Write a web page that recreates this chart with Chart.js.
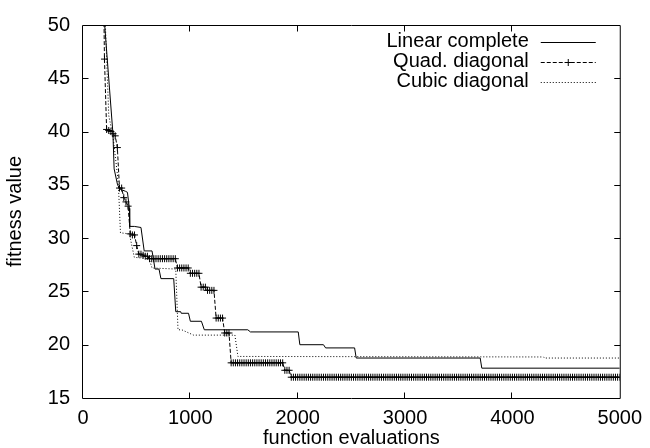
<!DOCTYPE html>
<html><head><meta charset="utf-8">
<script src="https://cdn.jsdelivr.net/npm/chart.js@4.4.1/dist/chart.umd.min.js"></script>
<style>html,body{margin:0;padding:0;background:#fff}#wrap{width:650px;height:448px}</style>
</head><body><div id="wrap"><canvas id="c" width="650" height="448"></canvas></div>
<script>
const xTicks = [0, 1000, 2000, 3000, 4000, 5000];
const yTicks = [15, 20, 25, 30, 35, 40, 45, 50];
const seriesNames = ['Linear complete', 'Quad. diagonal', 'Cubic diagonal'];

const linearEvals = [164, 279, 290, 322, 345, 395, 414, 432, 435, 478, 540, 570, 643, 671, 708, 726, 845, 864, 910, 915, 983, 1000, 1103, 1130, 1535, 1560, 2005, 2020, 2240, 2260, 2530, 2545, 3700, 3715, 5000];
const linearFitness = [55, 39.8, 36.5, 35.0, 34.6, 34.4, 34.3, 32.8, 31.1, 31.1, 31.0, 28.8, 28.8, 27.1, 27.1, 26.2, 26.2, 23.1, 23.1, 22.95, 22.95, 22.2, 22.2, 21.4, 21.4, 21.2, 21.2, 20.0, 20.0, 19.7, 19.7, 18.75, 18.75, 17.8, 17.8];

const quadEvals = [
  180, 200, 220, 240, 260, 280, 300, 320, 340, 360,
  380, 400, 420, 440, 460, 480, 500, 520, 540, 560,
  580, 600, 620, 640, 660, 680, 700, 720, 740, 760,
  780, 800, 820, 840, 860, 880, 900, 920, 940, 960,
  980, 1000, 1020, 1040, 1060, 1080, 1100, 1120, 1140, 1160,
  1180, 1200, 1220, 1240, 1260, 1280, 1300, 1320, 1340, 1360,
  1380, 1400, 1420, 1440, 1460, 1480, 1500, 1520, 1540, 1560,
  1580, 1600, 1620, 1640, 1660, 1680, 1700, 1720, 1740, 1760,
  1780, 1800, 1820, 1840, 1860, 1880, 1900, 1920, 1940, 1960,
  1980, 2000, 2020, 2040, 2060, 2080, 2100, 2120, 2140, 2160,
  2180, 2200, 2220, 2240, 2260, 2280, 2300, 2320, 2340, 2360,
  2380, 2400, 2420, 2440, 2460, 2480, 2500, 2520, 2540, 2560,
  2580, 2600, 2620, 2640, 2660, 2680, 2700, 2720, 2740, 2760,
  2780, 2800, 2820, 2840, 2860, 2880, 2900, 2920, 2940, 2960,
  2980, 3000, 3020, 3040, 3060, 3080, 3100, 3120, 3140, 3160,
  3180, 3200, 3220, 3240, 3260, 3280, 3300, 3320, 3340, 3360,
  3380, 3400, 3420, 3440, 3460, 3480, 3500, 3520, 3540, 3560,
  3580, 3600, 3620, 3640, 3660, 3680, 3700, 3720, 3740, 3760,
  3780, 3800, 3820, 3840, 3860, 3880, 3900, 3920, 3940, 3960,
  3980, 4000, 4020, 4040, 4060, 4080, 4100, 4120, 4140, 4160,
  4180, 4200, 4220, 4240, 4260, 4280, 4300, 4320, 4340, 4360,
  4380, 4400, 4420, 4440, 4460, 4480, 4500, 4520, 4540, 4560,
  4580, 4600, 4620, 4640, 4660, 4680, 4700, 4720, 4740, 4760,
  4780, 4800, 4820, 4840, 4860, 4880, 4900, 4920, 4940, 4960,
  4980, 5000
];
const quadFitness = [
  62, 46.8, 40.2, 40.1, 40.0, 39.8, 39.6, 38.5, 34.7, 34.7,
  33.8, 33.4, 33.0, 30.4, 30.3, 30.3, 29.3, 28.5, 28.5, 28.4,
  28.3, 28.3, 28.07, 28.07, 28.07, 28.07, 28.07, 28.07, 28.07, 28.07,
  28.07, 28.07, 28.07, 28.07, 28.07, 27.2, 27.2, 27.2, 27.2, 27.2,
  27.2, 26.7, 26.7, 26.7, 26.7, 26.7, 25.4, 25.4, 25.4, 25.1,
  25.1, 25.1, 25.1, 22.5, 22.5, 22.5, 22.5, 21.1, 21.1, 21.1,
  18.3, 18.3, 18.3, 18.3, 18.3, 18.3, 18.3, 18.3, 18.3, 18.3,
  18.3, 18.3, 18.3, 18.3, 18.3, 18.3, 18.3, 18.3, 18.3, 18.3,
  18.3, 18.3, 18.3, 18.3, 18.3, 17.6, 17.6, 17.6, 16.95, 16.95,
  16.95, 16.95, 16.95, 16.95, 16.95, 16.95, 16.95, 16.95, 16.95, 16.95,
  16.95, 16.95, 16.95, 16.95, 16.95, 16.95, 16.95, 16.95, 16.95, 16.95,
  16.95, 16.95, 16.95, 16.95, 16.95, 16.95, 16.95, 16.95, 16.95, 16.95,
  16.95, 16.95, 16.95, 16.95, 16.95, 16.95, 16.95, 16.95, 16.95, 16.95,
  16.95, 16.95, 16.95, 16.95, 16.95, 16.95, 16.95, 16.95, 16.95, 16.95,
  16.95, 16.95, 16.95, 16.95, 16.95, 16.95, 16.95, 16.95, 16.95, 16.95,
  16.95, 16.95, 16.95, 16.95, 16.95, 16.95, 16.95, 16.95, 16.95, 16.95,
  16.95, 16.95, 16.95, 16.95, 16.95, 16.95, 16.95, 16.95, 16.95, 16.95,
  16.95, 16.95, 16.95, 16.95, 16.95, 16.95, 16.95, 16.95, 16.95, 16.95,
  16.95, 16.95, 16.95, 16.95, 16.95, 16.95, 16.95, 16.95, 16.95, 16.95,
  16.95, 16.95, 16.95, 16.95, 16.95, 16.95, 16.95, 16.95, 16.95, 16.95,
  16.95, 16.95, 16.95, 16.95, 16.95, 16.95, 16.95, 16.95, 16.95, 16.95,
  16.95, 16.95, 16.95, 16.95, 16.95, 16.95, 16.95, 16.95, 16.95, 16.95,
  16.95, 16.95, 16.95, 16.95, 16.95, 16.95, 16.95, 16.95, 16.95, 16.95,
  16.95, 16.95, 16.95, 16.95, 16.95, 16.95, 16.95, 16.95, 16.95, 16.95,
  16.95, 16.95
];

const cubicEvals = [190, 240, 280, 320, 331, 349, 432, 478, 616, 643, 864, 885, 920, 1030, 1415, 1443, 4290, 4300, 5000];
const cubicFitness = [55, 41.5, 39.5, 36.0, 34.7, 30.5, 30.4, 28.2, 28.07, 27.2, 27.1, 21.4, 21.4, 20.9, 20.9, 18.9, 18.85, 18.75, 18.75];

const FONT = '"Liberation Sans", Arial, Helvetica, sans-serif';
Chart.defaults.font.family = FONT;
Chart.defaults.color = '#000';

const toPts = (xs, ys) => xs.map((x, i) => ({x: x, y: ys[i]}));

const framePlugin = {
  id: 'gpFrame',
  afterDatasetsDraw(chart) {
    const {ctx, chartArea: a, scales: {x, y}} = chart;
    ctx.save();
    ctx.strokeStyle = '#000';
    ctx.lineWidth = 1;
    ctx.setLineDash([]);
    const L = a.left - 0.5, R = a.right + 0.5, T = a.top + 0.5, B = a.bottom + 0.5;
    ctx.beginPath();
    ctx.moveTo(L, T); ctx.lineTo(R, T); ctx.lineTo(R, B); ctx.lineTo(L, B); ctx.closePath();
    const tl = 6;
    x.ticks.forEach(t => {
      const p = Math.round(x.getPixelForValue(t.value)) - 0.5;
      if (t.value === x.min || t.value === x.max) return;
      ctx.moveTo(p, B); ctx.lineTo(p, B - tl);
      ctx.moveTo(p, T); ctx.lineTo(p, T + tl);
    });
    y.ticks.forEach(t => {
      const p = Math.round(y.getPixelForValue(t.value)) + 0.5;
      if (t.value === y.min || t.value === y.max) return;
      ctx.moveTo(L, p); ctx.lineTo(L + tl, p);
      ctx.moveTo(R, p); ctx.lineTo(R - tl, p);
    });
    ctx.stroke();
    ctx.restore();
  },
  afterDraw(chart) {
    const {ctx, chartArea: a} = chart;
    chart.data.datasets.forEach((ds, i) => {
      const base = a.top + 22 + i * 20;
      ctx.save();
      ctx.font = '20px ' + FONT;
      ctx.fillStyle = '#000';
      ctx.textAlign = 'right';
      ctx.textBaseline = 'alphabetic';
      ctx.fillText(ds.label, a.right - 91, base);
      const ly = base - 4.5;
      ctx.strokeStyle = '#000';
      ctx.lineWidth = 1;
      ctx.setLineDash(ds.borderDash || []);
      ctx.beginPath(); ctx.moveTo(a.right - 79, ly); ctx.lineTo(a.right - 24, ly); ctx.stroke();
      if (ds.pointStyle === 'cross') {
        ctx.setLineDash([]);
        const cx = a.right - 51.5;
        ctx.beginPath();
        ctx.moveTo(cx - 3.5, ly); ctx.lineTo(cx + 3.5, ly);
        ctx.moveTo(cx, ly - 3.5); ctx.lineTo(cx, ly + 3.5);
        ctx.stroke();
      }
      ctx.restore();
    });
  }
};

new Chart(document.getElementById('c'), {
  type: 'line',
  data: {
    datasets: [
      {label: seriesNames[0], data: toPts(linearEvals, linearFitness), borderColor: '#000', borderWidth: 1, pointRadius: 0, tension: 0, fill: false},
      {label: seriesNames[1], data: toPts(quadEvals, quadFitness), borderColor: '#000', borderWidth: 1, borderDash: [4, 2], pointStyle: 'cross', pointRadius: 3.5, pointBorderColor: '#000', pointBorderWidth: 1, tension: 0, fill: false},
      {label: seriesNames[2], data: toPts(cubicEvals, cubicFitness), borderColor: '#000', borderWidth: 1, borderDash: [1, 2], pointRadius: 0, tension: 0, fill: false}
    ]
  },
  options: {
    responsive: false,
    animation: false,
    events: [],
    layout: {padding: {left: 0, right: 23, top: 15, bottom: 0}},
    plugins: {legend: {display: false}, tooltip: {enabled: false}},
    scales: {
      x: {
        type: 'linear', min: 0, max: 5000,
        afterBuildTicks: s => { s.ticks = xTicks.map(v => ({value: v})); },
        ticks: {color: '#000', font: {size: 20}, padding: 8, maxRotation: 0, autoSkip: false, callback: v => String(v)},
        grid: {display: false, drawTicks: false},
        border: {display: false},
        title: {display: true, text: 'function evaluations', color: '#000', font: {size: 20, lineHeight: 1}, padding: {top: 0, bottom: 0}},
        afterFit: s => { s.height = 50; }
      },
      y: {
        type: 'linear', min: 15, max: 50,
        afterBuildTicks: s => { s.ticks = yTicks.map(v => ({value: v})); },
        ticks: {color: '#000', font: {size: 20}, padding: 13, autoSkip: false, callback: v => String(v)},
        grid: {display: false, drawTicks: false},
        border: {display: false},
        title: {display: true, text: 'fitness value', color: '#000', font: {size: 20, lineHeight: 1}, padding: {top: 5, bottom: 0}},
        afterFit: s => { s.width = 83; }
      }
    }
  },
  plugins: [framePlugin]
});
</script>
</body></html>
